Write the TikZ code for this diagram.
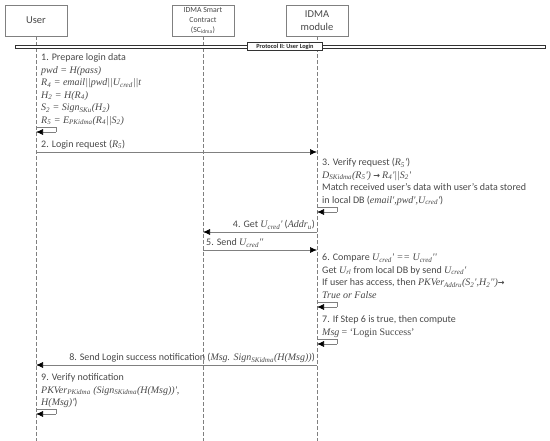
\documentclass[tikz,border=0pt]{standalone}
\usepackage{fontspec}
\setmainfont{Carlito}
\newfontfamily\tms{Liberation Serif}
\newfontfamily\arr{DejaVu Sans}
\usetikzlibrary{arrows.meta}
\newcommand\mi[1]{{\tms\itshape #1}}
\newcommand\sbs[1]{\textsubscript{\tms\itshape #1}}
\newcommand\rarr{{\arr\fontsize{8}{8}\selectfont\bfseries →}}
\definecolor{txt}{HTML}{484848}
\definecolor{ln}{HTML}{808080}
\begin{document}
\begin{tikzpicture}[x=1pt,y=-1pt,
  actor/.style={draw=ln,line width=0.6pt,fill=white,minimum width=62pt,minimum height=31pt,inner sep=0.5pt,align=center,text=txt},
  life/.style={draw=ln,dash pattern=on 4pt off 2pt,line width=0.6pt},
  msg/.style={draw=ln,line width=0.6pt,-{Latex[length=7pt,width=6pt,black]}},
  selfl/.style={draw=ln,line width=0.6pt},
  lbl/.style={anchor=base west,text=txt,font=\fontsize{10}{11}\selectfont,inner sep=0pt},
  rlbl/.style={anchor=base east,text=txt,font=\fontsize{10}{11}\selectfont,inner sep=0pt},
]
\useasboundingbox (0,0) rectangle (550,441);
% actors
\node[actor,font=\fontsize{10.5}{12.5}\selectfont] (ua) at (36,20.5) {User};
\node[actor,font=\fontsize{7.8}{9.6}\selectfont] (sa) at (203,20.5) {IDMA Smart\\Contract\\(SC\textsubscript{idma})};
\node[actor,font=\fontsize{10.5}{12.5}\selectfont] (ma) at (317,20.5) {IDMA\\module};
% lifelines
\coordinate (ue) at (ua.south |- 0,441);
\coordinate (se) at (sa.south |- 0,441);
\coordinate (me) at (ma.south |- 0,441);
\draw[life] (ua.south) -- (ue);
\draw[life] (sa.south) -- (se);
\draw[life] (ma.south) -- (me);
% protocol bar
\draw[draw=black!80,line width=0.5pt,fill=white] (15,44.8) rectangle (545,48.2);
\node[draw=black!80,line width=0.6pt,fill=white,font=\fontsize{6.3}{7}\selectfont\bfseries,text=black!85,minimum width=75pt,minimum height=8pt,inner sep=0.5pt] (pb) at (285,46.5) {Protocol II: User Login};
% step 1
\node[lbl] (t1a) at (41,61) {1. Prepare login data};
\node[lbl] (t1b) at (41,73.5) {\mi{pwd = H(pass)}};
\node[lbl] (t1c) at (41,86) {\mi{R\sbs{4} = email||pwd||U\sbs{cred}||t}};
\node[lbl] (t1d) at (41,98.5) {\mi{H\sbs{2} = H(R\sbs{4})}};
\node[lbl] (t1e) at (41,111) {\mi{S\sbs{2} = Sign\sbs{SKu}(H\sbs{2})}};
\node[lbl] (t1f) at (41,123.5) {\mi{R\sbs{5} = E\sbs{PKidma}(R\sbs{4}||S\sbs{2})}};
\coordinate (s1) at (ua.south |- 0,127);
\coordinate (s1e) at (ua.south |- 0,132);
\draw[selfl] (s1) -- ++(20,0) -- ++(0,5) coordinate (s1c);
\draw[msg] (s1c) -- (s1e);
% step 2
\node[lbl] (t2) at (41,147.5) {2. Login request (\mi{R\sbs{5}})};
\draw[msg] (ua.south |- 0,152) -- (ma.south |- 0,152);
% step 3
\node[lbl] (t3a) at (322,166) {3. Verify request (\mi{R\sbs{5}'})};
\node[lbl] (t3b) at (322,178.5) {\mi{D\sbs{SKidma}(R\sbs{5}')} \rarr{} \mi{R\sbs{4}'||S\sbs{2}'}};
\node[lbl] (t3c) at (322,191) {Match received user's data with user's data stored};
\node[lbl] (t3d) at (322,203.5) {in local DB (\mi{email',pwd',U\sbs{cred}'})};
\coordinate (s3) at (ma.south |- 0,207);
\coordinate (s3e) at (ma.south |- 0,212);
\draw[selfl] (s3) -- ++(20,0) -- ++(0,5) coordinate (s3c);
\draw[msg] (s3c) -- (s3e);
% step 4
\node[rlbl] (t4) at (315,228) {4. Get \mi{U\sbs{cred}'} (\mi{Addr\sbs{u}})};
\draw[msg] (ma.south |- 0,232) -- (sa.south |- 0,232);
% step 5
\node[lbl] (t5) at (206,246) {5. Send \mi{U\sbs{cred}''}};
\draw[msg] (sa.south |- 0,250) -- (ma.south |- 0,250);
% step 6
\node[lbl] (t6a) at (322,261) {6. Compare \mi{U\sbs{cred}' == U\sbs{cred}''}};
\node[lbl] (t6b) at (322,273.5) {Get \mi{U\sbs{rl}} from local DB by send \mi{U\sbs{cred}'}};
\node[lbl] (t6c) at (322,286) {If user has access, then \mi{PKVer\sbs{Addru}(S\sbs{2}',H\sbs{2}'')}\rarr};
\node[lbl] (t6d) at (322,298.5) {\mi{True or False}};
\coordinate (s6) at (ma.south |- 0,302);
\coordinate (s6e) at (ma.south |- 0,307);
\draw[selfl] (s6) -- ++(20,0) -- ++(0,5) coordinate (s6c);
\draw[msg] (s6c) -- (s6e);
% step 7
\node[lbl] (t7a) at (322,323) {7. If Step 6 is true, then compute};
\node[lbl] (t7b) at (322,335.5) {\mi{Msg} {\tms = ‘Login Success’}};
\coordinate (s7) at (ma.south |- 0,339);
\coordinate (s7e) at (ma.south |- 0,344);
\draw[selfl] (s7) -- ++(20,0) -- ++(0,5) coordinate (s7c);
\draw[msg] (s7c) -- (s7e);
% step 8
\node[rlbl] (t8) at (315,361) {8. Send Login success notification (\mi{Msg. Sign\sbs{SKidma}(H(Msg))})};
\draw[msg] (ma.south |- 0,365) -- (ua.south |- 0,365);
% step 9
\node[lbl] (t9a) at (41,381) {9. Verify notification};
\node[lbl] (t9b) at (41,393.5) {\mi{PKVer\sbs{PKidma} (Sign\sbs{SKidma}(H(Msg))',}};
\node[lbl] (t9c) at (41,406) {\mi{H(Msg)'})};
\coordinate (s9) at (ua.south |- 0,409);
\coordinate (s9e) at (ua.south |- 0,414);
\draw[selfl] (s9) -- ++(20,0) -- ++(0,5) coordinate (s9c);
\draw[msg] (s9c) -- (s9e);
\end{tikzpicture}
\end{document}
